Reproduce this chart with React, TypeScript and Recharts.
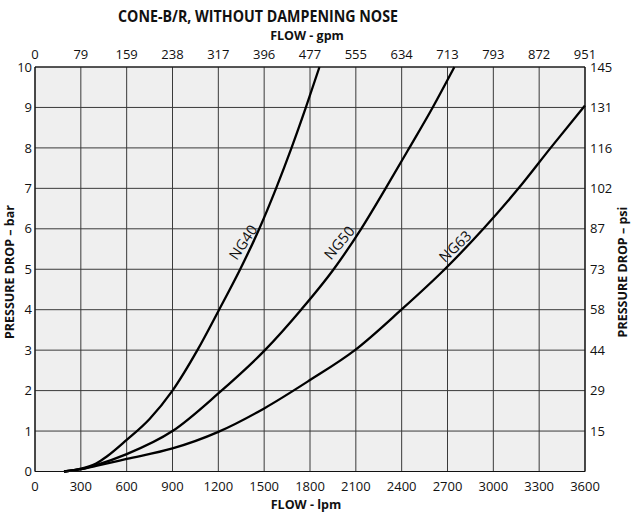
import React from 'react';
import { LineChart, Line, XAxis, YAxis, CartesianGrid, ReferenceDot } from 'recharts';

const lpmTicks = [0, 300, 600, 900, 1200, 1500, 1800, 2100, 2400, 2700, 3000, 3300, 3600];
const gpmLabels = ['0', '79', '159', '238', '317', '396', '477', '555', '634', '713', '793', '872', '951'];
const barTicks = [0, 1, 2, 3, 4, 5, 6, 7, 8, 9, 10];
const psiTicks = [1, 2, 3, 4, 5, 6, 7, 8, 9, 10];
const psiLabels = ['15', '29', '44', '58', '73', '87', '102', '116', '131', '145'];

const ng40Flow = [190, 300, 400, 470, 600, 750, 900, 1063, 1205, 1343, 1468, 1578, 1679, 1773, 1862];
const ng40Drop = [0, 0.07, 0.2, 0.37, 0.78, 1.3, 2, 3, 4, 5, 6, 7, 8, 9, 10];

const ng50Flow = [190, 300, 400, 600, 900, 1200, 1505, 1742, 1955, 2135, 2295, 2450, 2603, 2745];
const ng50Drop = [0, 0.06, 0.16, 0.43, 1.0, 1.93, 3, 4, 5, 6, 7, 8, 9, 10];

const ng63Flow = [190, 300, 400, 600, 900, 1200, 1500, 1800, 2094, 2398, 2682, 2935, 3165, 3375, 3600];
const ng63Drop = [0, 0.06, 0.14, 0.31, 0.57, 0.98, 1.56, 2.26, 3, 4, 5, 6, 7, 8, 9.05];

const curveNames = ['NG40', 'NG50', 'NG63'];
const labelFlow = [1361, 1990, 2749];
const labelDrop = [5.67, 5.66, 5.57];
const labelAngle = [-56, -50, -44];

const toPoints = (f: number[], d: number[]) => f.map((q, i) => ({ q, p: d[i] }));
const series = [toPoints(ng40Flow, ng40Drop), toPoints(ng50Flow, ng50Drop), toPoints(ng63Flow, ng63Drop)];

const FONT = '"Open Sans", "Noto Sans", sans-serif';
const tickStyle = { fill: '#111', fontSize: 13, fontFamily: FONT };

const CurveLabel = (props: any) => {
  const vb = props.viewBox || {};
  const cx = (vb.x || 0) + (vb.width || 0) / 2;
  const cy = (vb.y || 0) + (vb.height || 0) / 2;
  return (
    <text
      x={cx}
      y={cy}
      transform={`rotate(${props.angle} ${cx} ${cy})`}
      textAnchor="middle"
      dominantBaseline="central"
      fontSize={14.5}
      fontFamily={FONT}
      fill="#111"
    >
      {props.text}
    </text>
  );
};

export default function App() {
  return (
    <div style={{ position: 'absolute', left: 0, top: 0, width: 631, height: 514, background: '#fff' }}>
      <LineChart width={631} height={514} margin={{ top: 37, right: 16, bottom: 12.5, left: 5 }}>
        <CartesianGrid
          xAxisId="bottom"
          yAxisId="bar"
          fill="#efefef"
          fillOpacity={1}
          stroke="#3a3a3a"
          strokeWidth={1}
        />
        <XAxis
          xAxisId="bottom"
          dataKey="q"
          type="number"
          domain={[0, 3600]}
          ticks={lpmTicks}
          orientation="bottom"
          height={30}
          tickSize={0}
          tickMargin={10}
          tick={tickStyle}
          tickLine={false}
          axisLine={{ stroke: '#111', strokeWidth: 1.2 }}
          interval={0}
        />
        <XAxis
          xAxisId="top"
          dataKey="q"
          type="number"
          domain={[0, 3600]}
          ticks={lpmTicks}
          orientation="top"
          height={30}
          tickSize={0}
          tickMargin={8}
          tick={tickStyle}
          tickLine={false}
          tickFormatter={(v: number) => gpmLabels[lpmTicks.indexOf(v)]}
          axisLine={{ stroke: '#111', strokeWidth: 1.2 }}
          interval={0}
        />
        <YAxis
          yAxisId="bar"
          type="number"
          domain={[0, 10]}
          ticks={barTicks}
          orientation="left"
          width={30}
          tickSize={0}
          tickMargin={3}
          tick={tickStyle}
          tickLine={false}
          axisLine={{ stroke: '#111', strokeWidth: 1.2 }}
          interval={0}
        />
        <YAxis
          yAxisId="psi"
          type="number"
          domain={[0, 10]}
          ticks={psiTicks}
          orientation="right"
          width={30}
          tickSize={0}
          tickMargin={5}
          tick={tickStyle}
          tickLine={false}
          tickFormatter={(v: number) => psiLabels[psiTicks.indexOf(v)]}
          axisLine={{ stroke: '#111', strokeWidth: 1.2 }}
          interval={0}
        />
        <Line
          data={series[2]}
          dataKey="p"
          xAxisId="top"
          yAxisId="psi"
          type="monotone"
          stroke="transparent"
          strokeWidth={0}
          dot={false}
          activeDot={false}
          legendType="none"
          isAnimationActive={false}
        />
        {series.map((d, i) => (
          <Line
            key={curveNames[i]}
            data={d}
            dataKey="p"
            xAxisId="bottom"
            yAxisId="bar"
            type="monotone"
            stroke="#000"
            strokeWidth={2.3}
            dot={false}
            activeDot={false}
            isAnimationActive={false}
          />
        ))}
        {curveNames.map((n, i) => (
          <ReferenceDot
            key={'lbl' + n}
            xAxisId="bottom"
            yAxisId="bar"
            x={labelFlow[i]}
            y={labelDrop[i]}
            r={0}
            fill="none"
            stroke="none"
            label={(p: any) => <CurveLabel {...p} text={n} angle={labelAngle[i]} />}
          />
        ))}
        <text x={258} y={22} textAnchor="middle" fontFamily={FONT} fontWeight={700} fontSize={16.5} textLength={280} lengthAdjust="spacingAndGlyphs" fill="#111">
          CONE-B/R, WITHOUT DAMPENING NOSE
        </text>
        <text x={307} y={40} textAnchor="middle" fontFamily={FONT} fontWeight={700} fontSize={12.5} fill="#111">
          FLOW - gpm
        </text>
        <text x={306} y={509} textAnchor="middle" fontFamily={FONT} fontWeight={700} fontSize={12.5} fill="#111">
          FLOW - lpm
        </text>
        <text x={14} y={272} transform="rotate(-90 14 272)" textAnchor="middle" fontFamily={FONT} fontWeight={700} fontSize={12.5} fill="#111">
          PRESSURE DROP – bar
        </text>
        <text x={627} y={272} transform="rotate(-90 627 272)" textAnchor="middle" fontFamily={FONT} fontWeight={700} fontSize={12.5} fill="#111">
          PRESSURE DROP – psi
        </text>
      </LineChart>
    </div>
  );
}
